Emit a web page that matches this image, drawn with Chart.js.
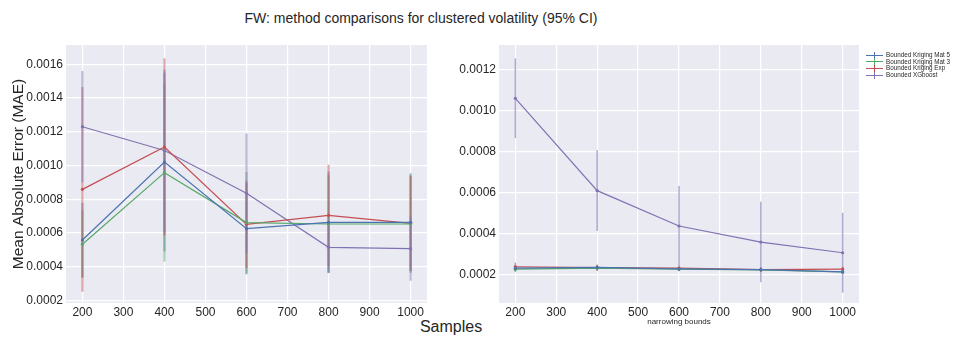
<!DOCTYPE html>
<html lang="en">
<head>
  <meta charset="UTF-8" />
  <title>FW: method comparisons</title>
  <script src="https://cdn.jsdelivr.net/npm/chart.js"></script>
  <style>
    body {
      margin: 0;
      width: 971px;
      height: 338px;
      background: #ffffff;
      position: relative;
      overflow: hidden;
      font-family: "Liberation Sans", Arial, sans-serif;
      color: #262626;
    }
    .fig-text {
      position: absolute;
      left: 0;
      text-align: center;
      white-space: nowrap;
    }
    #figTitle { top: 10px; width: 842px; font-size: 14px; line-height: 16px; }
    #figXLabel { top: 318px; width: 902px; font-size: 16px; line-height: 18px; }
    #leftWrap { position: absolute; left: 0; top: 0; width: 440px; height: 338px; }
    #rightWrap { position: absolute; left: 440px; top: 0; width: 531px; height: 338px; }
    #legend {
      position: absolute;
      left: 866px;
      top: 52px;
      font-size: 6.3px;
      line-height: 6.6px;
    }
    .leg-row { display: flex; align-items: center; height: 6.6px; }
    .leg-line { position: relative; width: 17px; height: 1px; margin-right: 3px; }
    .leg-line::after {
      content: "";
      position: absolute;
      left: 8px;
      top: -3px;
      width: 1px;
      height: 7px;
      background: inherit;
    }
  </style>
</head>
<body>

<div class="fig-text" id="figTitle">FW: method comparisons for clustered volatility (95% CI)</div>
<div class="fig-text" id="figXLabel">Samples</div>

<div id="leftWrap"><canvas id="leftChart" width="440" height="338"></canvas></div>
<div id="rightWrap"><canvas id="rightChart" width="531" height="338"></canvas></div>

<div id="legend"></div>

<script>
  // x values
  const samples = [200, 400, 600, 800, 1000];
  const seriesNames = ['Bounded Kriging Mat 5', 'Bounded Kriging Mat 3', 'Bounded Kriging Exp', 'Bounded XGboost'];
  const seriesColors = ['#4C72B0', '#55A868', '#C44E52', '#8172B2'];

  // left panel: mean MAE and 95% CI half widths
  const maeMat5 = [0.000559, 0.001021, 0.000626, 0.000664, 0.000664];
  const ciMat5  = [0.00022, 0.00053, 0.00027, 0.00030, 0.00029];
  const maeMat3 = [0.000534, 0.000958, 0.000662, 0.000654, 0.000654];
  const ciMat3  = [0.00020, 0.000527, 0.00030, 0.00029, 0.00029];
  const maeExp  = [0.000859, 0.00111, 0.000652, 0.000705, 0.000658];
  const ciExp   = [0.000606, 0.000525, 0.000258, 0.00030, 0.00028];
  const maeXgb  = [0.00123, 0.001089, 0.000836, 0.000516, 0.000508];
  const ciXgb   = [0.00033, 0.00048, 0.000354, 0.00015, 0.00019];

  // right panel: narrowing bounds
  const nbMat5 = [0.000233, 0.000237, 0.000230, 0.000226, 0.000215];
  const nbCiMat5 = [0.000015, 0.000012, 0.000010, 0.000010, 0.000010];
  const nbMat3 = [0.000228, 0.000233, 0.000228, 0.000225, 0.000215];
  const nbCiMat3 = [0.000014, 0.000012, 0.000010, 0.000010, 0.000010];
  const nbExp  = [0.000240, 0.000236, 0.000233, 0.000226, 0.000228];
  const nbCiExp  = [0.000020, 0.000015, 0.000012, 0.000012, 0.000012];
  const nbXgb  = [0.001059, 0.000610, 0.000438, 0.000360, 0.000308];
  const nbCiXgb  = [0.000194, 0.000196, 0.000195, 0.000196, 0.000194];

  function hexA(hex, a) {
    const n = parseInt(hex.slice(1), 16);
    return 'rgba(' + (n >> 16) + ',' + ((n >> 8) & 255) + ',' + (n & 255) + ',' + a + ')';
  }

  function makeDatasets(means, cis) {
    return means.map((m, i) => ({
      label: seriesNames[i],
      data: samples.map((x, j) => ({ x: x, y: m[j] })),
      ci: cis[i],
      borderColor: seriesColors[i],
      backgroundColor: seriesColors[i],
      borderWidth: 1.2,
      pointRadius: 1.6,
      pointBorderWidth: 0,
      pointBackgroundColor: seriesColors[i],
      tension: 0
    }));
  }

  // grey panel background
  const panelBg = {
    id: 'panelBg',
    beforeDraw(chart) {
      const { ctx, chartArea: a } = chart;
      ctx.save();
      ctx.fillStyle = '#EAEAF2';
      ctx.fillRect(a.left, a.top, a.right - a.left, a.bottom - a.top);
      ctx.restore();
    }
  };

  // vertical CI bars drawn through the scales
  const errorBars = {
    id: 'errorBars',
    beforeDatasetsDraw(chart, args, opts) {
      const { ctx, scales: { x, y } } = chart;
      ctx.save();
      ctx.lineCap = 'butt';
      chart.data.datasets.forEach(ds => {
        ctx.strokeStyle = hexA(ds.borderColor, opts.alpha);
        ctx.lineWidth = opts.width;
        ds.data.forEach((p, j) => {
          const px = x.getPixelForValue(p.x);
          ctx.beginPath();
          ctx.moveTo(px, y.getPixelForValue(p.y - ds.ci[j]));
          ctx.lineTo(px, y.getPixelForValue(p.y + ds.ci[j]));
          ctx.stroke();
        });
      });
      ctx.restore();
    }
  };

  const tickFont = { family: '"Liberation Sans", Arial, sans-serif', size: 12 };

  function makeOptions(cfg) {
    return {
      responsive: false,
      animation: false,
      layout: { padding: { top: 45, right: cfg.padRight, left: 0, bottom: 0 } },
      plugins: {
        legend: { display: false },
        tooltip: { enabled: false },
        errorBars: { alpha: cfg.barAlpha, width: cfg.barWidth }
      },
      scales: {
        x: {
          type: 'linear',
          min: 160,
          max: 1040,
          border: { display: false },
          grid: { color: '#ffffff', lineWidth: 1.2, drawTicks: false },
          ticks: {
            stepSize: 100, includeBounds: false, padding: 2, color: '#262626',
            font: tickFont, maxRotation: 0, callback: v => String(v)
          },
          title: cfg.xTitle ? {
            display: true,
            text: cfg.xTitle,
            color: '#262626',
            font: { family: '"Liberation Sans", Arial, sans-serif', size: 8 },
            padding: { top: 0, bottom: 11 }
          } : { display: false },
          afterFit(s) { s.height = 35; }
        },
        y: {
          type: 'linear',
          min: cfg.yMin,
          max: cfg.yMax,
          border: { display: false },
          grid: { color: '#ffffff', lineWidth: 1.2, drawTicks: false },
          ticks: {
            stepSize: 0.0002,
            includeBounds: false,
            padding: 3,
            color: '#262626',
            font: tickFont,
            callback: v => v.toFixed(4)
          },
          title: cfg.yTitle ? {
            display: true,
            text: cfg.yTitle,
            color: '#262626',
            font: { family: '"Liberation Sans", Arial, sans-serif', size: 15.5 },
            padding: { top: 9, bottom: 0 }
          } : { display: false },
          afterFit(s) { s.width = cfg.yWidth; }
        }
      }
    };
  }

  new Chart(document.getElementById('leftChart'), {
    type: 'line',
    data: {
      datasets: makeDatasets([maeMat5, maeMat3, maeExp, maeXgb], [ciMat5, ciMat3, ciExp, ciXgb])
    },
    options: makeOptions({
      padRight: 13, yWidth: 66, yMin: 0.000186, yMax: 0.001714,
      yTitle: 'Mean Absolute Error (MAE)', xTitle: null, barAlpha: 0.5, barWidth: 2
    }),
    plugins: [panelBg, errorBars]
  });

  new Chart(document.getElementById('rightChart'), {
    type: 'line',
    data: {
      datasets: makeDatasets([nbMat5, nbMat3, nbExp, nbXgb], [nbCiMat5, nbCiMat3, nbCiExp, nbCiXgb])
    },
    options: makeOptions({
      padRight: 112, yWidth: 59, yMin: 0.0000637, yMax: 0.001318,
      yTitle: null, xTitle: 'narrowing bounds', barAlpha: 0.6, barWidth: 1.5
    }),
    plugins: [panelBg, errorBars]
  });

  // legend
  const legend = document.getElementById('legend');
  seriesNames.forEach((name, i) => {
    const row = document.createElement('div');
    row.className = 'leg-row';
    const line = document.createElement('div');
    line.className = 'leg-line';
    line.style.background = seriesColors[i];
    const txt = document.createElement('span');
    txt.textContent = name;
    row.appendChild(line);
    row.appendChild(txt);
    legend.appendChild(row);
  });
</script>

</body>
</html>
